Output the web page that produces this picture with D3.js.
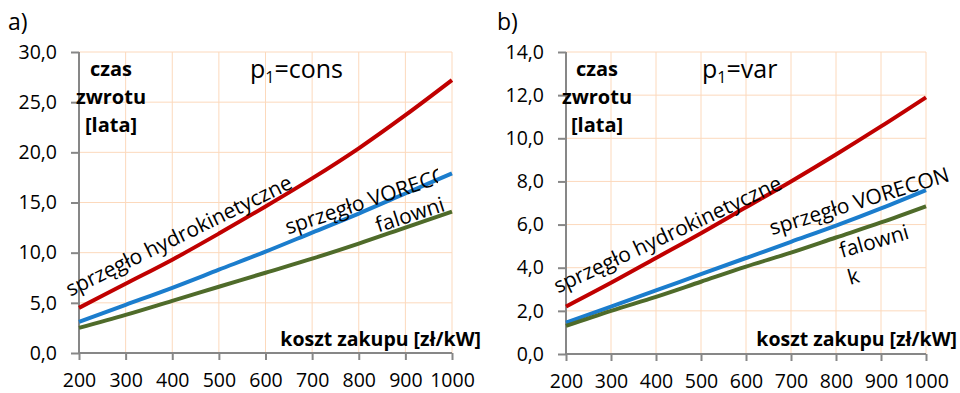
<!DOCTYPE html>
<html>
<head>
<meta charset="utf-8">
<script src="https://cdn.jsdelivr.net/npm/d3@7"></script>
<style>
  body { margin: 0; background: #fff; }
  svg text { font-family: "Open Sans", "Noto Sans", sans-serif; fill: #000; }
</style>
</head>
<body>
<svg id="chart" width="960" height="393"></svg>
<script>
// x axis: purchase cost [zł/kW]
const costs = [200, 300, 400, 500, 600, 700, 800, 900, 1000];

// a) p1 = cons
const hydroA    = [4.5, 6.9, 9.3, 11.9, 14.6, 17.4, 20.4, 23.7, 27.2];
const voreconA  = [3.1, 4.8, 6.5, 8.3, 10.1, 12.0, 13.9, 15.9, 17.9];
const falownikA = [2.5, 3.8, 5.2, 6.6, 8.0, 9.4, 10.9, 12.5, 14.1];

// b) p1 = var
const hydroB    = [2.2, 3.3, 4.45, 5.6, 6.8, 8.0, 9.25, 10.55, 11.9];
const voreconB  = [1.45, 2.2, 2.95, 3.7, 4.45, 5.2, 5.95, 6.75, 7.6];
const falownikB = [1.3, 2.0, 2.65, 3.35, 4.05, 4.7, 5.4, 6.1, 6.85];

const yTicksA = [0, 5, 10, 15, 20, 25, 30];
const yTicksB = [0, 2, 4, 6, 8, 10, 12, 14];

const colors = { hydro: '#C00000', vorecon: '#1B7DCD', falownik: '#4F6B2A' };
const gridColor = '#FCD9BC';
const axisColor = '#878787';

const svg = d3.select('#chart');
const fmt = v => d3.format('.1f')(v).replace('.', ',');

const panels = [
    {
        id: 'a', tag: 'a)', tagX: 8, p1: 'cons', pX: 250,
        x0: 79, x1: 452, y0: 353, y1: 52, yMax: 30, yTicks: yTicksA,
        series: [['hydro', hydroA], ['vorecon', voreconA], ['falownik', falownikA]],
        titleX: 111, axisTitleEnd: 481,
        labels: [
            { text: 'sprzęgło hydrokinetyczne', x: 181, y: 5.6, angle: -26 },
            { text: 'sprzęgło VORECON', x: 648, y: 11.8, angle: -18.5, clip: 438 },
            { text: 'falowni', x: 842, y: 12.0, angle: -18 }
        ]
    },
    {
        id: 'b', tag: 'b)', tagX: 497, p1: 'var', pX: 702,
        x0: 566, x1: 926, y0: 354, y1: 52, yMax: 14, yTicks: yTicksB,
        series: [['hydro', hydroB], ['vorecon', voreconB], ['falownik', falownikB]],
        titleX: 597, axisTitleEnd: 957,
        labels: [
            { text: 'sprzęgło hydrokinetyczne', x: 182, y: 2.8, angle: -25 },
            { text: 'sprzęgło VORECON', x: 658, y: 5.5, angle: -17 },
            { text: 'falowni', x: 813, y: 4.45, angle: -16 },
            { text: 'k', x: 831, y: 3.2, angle: -16 }
        ]
    }
];

panels.forEach(p => {
    const x = d3.scaleLinear().domain([200, 1000]).range([p.x0, p.x1]);
    const y = d3.scaleLinear().domain([0, p.yMax]).range([p.y0, p.y1]);
    const g = svg.append('g');

    // gridlines
    g.append('g').selectAll('line.h').data(p.yTicks.slice(1)).join('line')
        .attr('x1', p.x0).attr('x2', p.x1)
        .attr('y1', d => y(d)).attr('y2', d => y(d))
        .attr('stroke', gridColor).attr('stroke-width', 1);
    g.append('g').selectAll('line.v').data(costs.slice(1)).join('line')
        .attr('x1', d => x(d)).attr('x2', d => x(d))
        .attr('y1', p.y1).attr('y2', p.y0)
        .attr('stroke', gridColor).attr('stroke-width', 1);

    // y axis
    const yAxis = g.append('g').attr('transform', `translate(${p.x0},0)`)
        .call(d3.axisLeft(y).tickValues(p.yTicks).tickFormat(fmt).tickSize(8).tickPadding(14));
    // x axis
    const xAxis = g.append('g').attr('transform', `translate(0,${p.y0})`)
        .call(d3.axisBottom(x).tickValues(costs).tickFormat(d3.format('d')).tickSize(7).tickPadding(13));
    [yAxis, xAxis].forEach(a => {
        a.select('.domain').attr('stroke', axisColor).attr('stroke-width', 2);
        a.selectAll('.tick line').attr('stroke', axisColor).attr('stroke-width', 2);
        a.selectAll('.tick text').attr('font-size', 19.5).attr('fill', '#000')
            .style('font-family', '"Open Sans", sans-serif');
    });
    yAxis.select('.domain').attr('d', `M0,${p.y0}V${p.y1}`);
    xAxis.select('.domain').attr('d', `M${p.x0},0H${p.x1}`);

    // series lines
    const line = d3.line().x((d, i) => x(costs[i])).y(d => y(d)).curve(d3.curveMonotoneX);
    p.series.forEach(([key, vals]) => {
        g.append('path').datum(vals)
            .attr('d', line)
            .attr('fill', 'none')
            .attr('stroke', colors[key])
            .attr('stroke-width', 4)
            .attr('stroke-linecap', 'butt');
    });

    // rotated line labels
    p.labels.forEach((l, i) => {
        let target = g;
        if (l.clip) {
            const cid = `clip-${p.id}-${i}`;
            svg.append('clipPath').attr('id', cid).append('rect')
                .attr('x', 0).attr('y', 0).attr('width', l.clip).attr('height', 393);
            target = g.append('g').attr('clip-path', `url(#${cid})`);
        }
        target.append('text')
            .attr('transform', `translate(${x(l.x)},${y(l.y)}) rotate(${l.angle})`)
            .attr('font-size', 21)
            .text(l.text);
    });

    // axis titles
    const title = g.append('text').attr('font-size', 20).attr('font-weight', 'bold')
        .attr('text-anchor', 'middle');
    ['czas', 'zwrotu', '[lata]'].forEach((t, i) => {
        title.append('tspan').attr('x', p.titleX).attr('y', 76 + i * 28).text(t);
    });
    g.append('text').attr('x', p.axisTitleEnd).attr('y', 346)
        .attr('text-anchor', 'end').attr('font-size', 19.5).attr('font-weight', 'bold')
        .text('koszt zakupu [zł/kW]');

    // p1 annotation
    const pt = g.append('text').attr('x', p.pX).attr('y', 78).attr('font-size', 25);
    pt.append('tspan').text('p');
    pt.append('tspan').attr('font-size', 16).attr('dy', 5).text('1');
    pt.append('tspan').attr('dy', -5).text('=' + p.p1);

    // panel tag
    g.append('text').attr('x', p.tagX).attr('y', 30).attr('font-size', 23).text(p.tag);
});
</script>
</body>
</html>
